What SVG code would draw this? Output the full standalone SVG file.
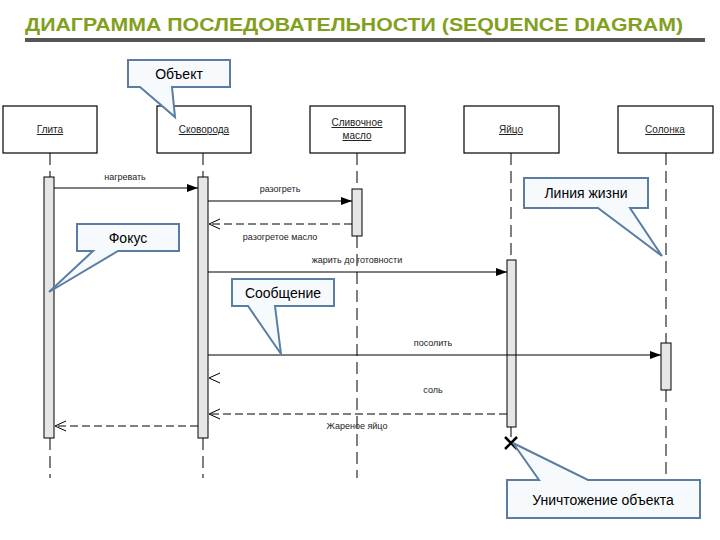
<svg xmlns="http://www.w3.org/2000/svg" width="720" height="540" viewBox="0 0 720 540">
<style>
.obj{fill:#fff;stroke:#000;stroke-width:1.2}
.otxt{font-family:"Liberation Sans",Arial,sans-serif;font-size:10px;fill:#222;text-anchor:middle;text-decoration:underline}
.life{stroke:#000;stroke-width:1;stroke-dasharray:12 6;fill:none}
.bar{fill:#e6e6e6;stroke:#000;stroke-width:1}
.msg{stroke:#000;stroke-width:1.2;fill:none}
.ret{stroke:#000;stroke-width:1;stroke-dasharray:8 4;fill:none}
.lbl{font-family:"Liberation Sans",Arial,sans-serif;font-size:9px;fill:#222;text-anchor:middle}
.call{fill:#f7fafd;stroke:#5a7ea3;stroke-width:2;stroke-linejoin:miter}
.ctxt{font-family:"Liberation Sans",Arial,sans-serif;font-size:14px;fill:#000;text-anchor:middle}
</style>
<defs>
<marker id="filled" markerWidth="12" markerHeight="10" refX="11" refY="5" orient="auto" markerUnits="userSpaceOnUse">
<path d="M0,1 L11,5 L0,9 Z" fill="#000"/>
</marker>
<marker id="open" markerWidth="12" markerHeight="12" refX="11" refY="6" orient="auto" markerUnits="userSpaceOnUse">
<path d="M0,1 L11,6 L0,11" fill="none" stroke="#000" stroke-width="1"/>
</marker>
</defs>

<g id="title">
<text x="25" y="31" font-family="'Liberation Sans',Arial,sans-serif" font-size="19" font-weight="bold" fill="#82a020" textLength="658" lengthAdjust="spacingAndGlyphs">ДИАГРАММА ПОСЛЕДОВАТЕЛЬНОСТИ (SEQUENCE DIAGRAM)</text>
<rect x="25" y="38" width="680" height="4" fill="#555"/>
</g>

<g id="lifelines">
<line class="life" x1="50" y1="153" x2="50" y2="177"/>
<line class="life" x1="50" y1="438" x2="50" y2="478"/>
<line class="life" x1="203" y1="153" x2="203" y2="177"/>
<line class="life" x1="203" y1="438" x2="203" y2="478"/>
<line class="life" x1="357" y1="153" x2="357" y2="189"/>
<line class="life" x1="357" y1="236" x2="357" y2="478"/>
<line class="life" x1="511" y1="153" x2="511" y2="260"/>
<line stroke="#000" stroke-width="1" x1="511" y1="427" x2="511" y2="437"/>
<line class="life" x1="666" y1="153" x2="666" y2="343"/>
<line class="life" x1="666" y1="390" x2="666" y2="480"/>
</g>

<g id="obj-plita">
<rect class="obj" x="3" y="106" width="94" height="47"/>
<text class="otxt" x="50" y="133">Глита</text>
<rect class="bar" x="44" y="177" width="10" height="261"/>
</g>
<g id="obj-skovoroda">
<rect class="obj" x="157" y="106" width="94" height="47"/>
<text class="otxt" x="204" y="133">Сковорода</text>
<rect class="bar" x="198" y="177" width="10" height="261"/>
</g>
<g id="obj-maslo">
<rect class="obj" x="310" y="106" width="95" height="47"/>
<text class="otxt" x="357" y="126">Сливочное</text>
<text class="otxt" x="357" y="139">масло</text>
<rect class="bar" x="352" y="189" width="10" height="47"/>
</g>
<g id="obj-yaitso">
<rect class="obj" x="464" y="106" width="95" height="47"/>
<text class="otxt" x="511" y="133">Яйцо</text>
<rect class="bar" x="507" y="260" width="9" height="167"/>
<path d="M505,437 L517,449 M517,437 L505,449" stroke="#000" stroke-width="2.5"/>
</g>
<g id="obj-solonka">
<rect class="obj" x="618" y="106" width="95" height="47"/>
<text class="otxt" x="665" y="133">Солонка</text>
<rect class="bar" x="661" y="343" width="10" height="47"/>
</g>

<g id="connectors">
<line class="msg" x1="54" y1="188" x2="198" y2="188" marker-end="url(#filled)"/>
<text class="lbl" x="125" y="180">нагревать</text>
<line class="msg" x1="208" y1="201" x2="352" y2="201" marker-end="url(#filled)"/>
<text class="lbl" x="280" y="192">разогреть</text>
<line class="ret" x1="352" y1="224" x2="209" y2="224" marker-end="url(#open)"/>
<text class="lbl" x="280" y="240">разогретое масло</text>
<line class="msg" x1="208" y1="272" x2="507" y2="272" marker-end="url(#filled)"/>
<text class="lbl" x="357" y="263">жарить до готовности</text>
<line class="msg" x1="208" y1="355" x2="661" y2="355" marker-end="url(#filled)"/>
<text class="lbl" x="433" y="346">посолить</text>
<path d="M220,373 L209,378 L220,383" fill="none" stroke="#000" stroke-width="1"/>
<text class="lbl" x="433" y="393">соль</text>
<line class="ret" x1="507" y1="414" x2="209" y2="414" marker-end="url(#open)"/>
<text class="lbl" x="357" y="429">Жареное яйцо</text>
<line class="ret" x1="198" y1="426" x2="55" y2="426" marker-end="url(#open)"/>
</g>

<g id="callout-obekt">
<path class="call" d="M128,60 H230 V87 H172 L175,117 L140,87 H128 Z"/>
<text class="ctxt" x="179" y="79">Объект</text>
</g>
<g id="callout-fokus">
<path class="call" d="M77,224 H179 V251 H118 L49,292 L93,251 H77 Z"/>
<text class="ctxt" x="128" y="243">Фокус</text>
</g>
<g id="callout-soobshchenie">
<path class="call" d="M232,279 H334 V306 H275 L281,354 L248,306 H232 Z"/>
<text class="ctxt" x="283" y="298">Сообщение</text>
</g>
<g id="callout-liniya">
<path class="call" d="M524,178 H648 V208 H630 L662,256 L598,208 H524 Z"/>
<text class="ctxt" x="586" y="198">Линия жизни</text>
</g>
<g id="callout-unichtozhenie">
<path class="call" d="M507,480 H539 L513,443 L588,480 H700 V518 H507 Z"/>
<text class="ctxt" x="603" y="505">Уничтожение объекта</text>
</g>
</svg>
